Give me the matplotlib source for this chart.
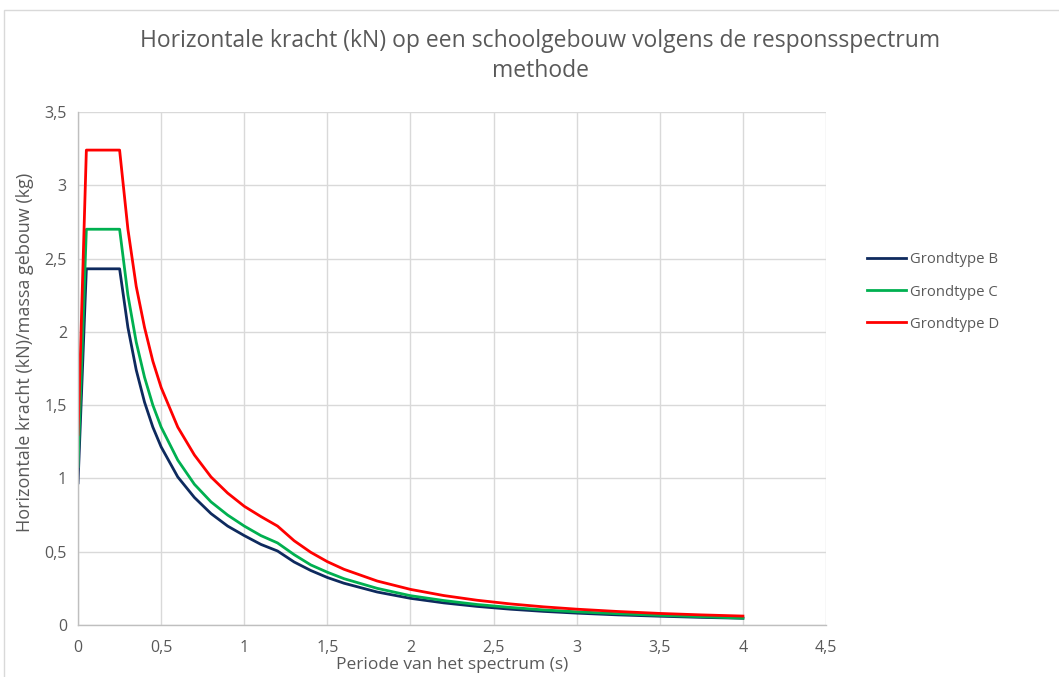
import matplotlib
matplotlib.use("Agg")
import matplotlib.pyplot as plt
from matplotlib.ticker import FuncFormatter, MultipleLocator
from matplotlib.patches import Rectangle


# periode (s) and spectral values
periode = [0.0, 0.05, 0.25, 0.3, 0.35, 0.4, 0.45, 0.5, 0.6, 0.7, 0.8, 0.9,
           1.0, 1.1, 1.2, 1.3, 1.4, 1.5, 1.6, 1.8, 2.0, 2.2, 2.4, 2.6, 2.8,
           3.0, 3.25, 3.5, 3.75, 4.0]

grond_b = [0.97, 2.43, 2.43, 2.03, 1.74, 1.52, 1.35, 1.215, 1.01, 0.87, 0.76,
           0.675, 0.61, 0.55, 0.505, 0.43, 0.372, 0.324, 0.285, 0.225, 0.182,
           0.151, 0.127, 0.108, 0.093, 0.081, 0.069, 0.060, 0.052, 0.046]

grond_c = [1.08, 2.70, 2.70, 2.25, 1.93, 1.69, 1.50, 1.35, 1.125, 0.96, 0.84,
           0.75, 0.675, 0.61, 0.56, 0.48, 0.41, 0.36, 0.316, 0.25, 0.20,
           0.167, 0.14, 0.12, 0.103, 0.09, 0.077, 0.066, 0.057, 0.047]

grond_d = [1.30, 3.24, 3.24, 2.70, 2.31, 2.03, 1.80, 1.62, 1.35, 1.16, 1.01,
           0.90, 0.81, 0.74, 0.675, 0.575, 0.496, 0.432, 0.380, 0.300, 0.243,
           0.201, 0.169, 0.144, 0.124, 0.108, 0.092, 0.079, 0.069, 0.061]

series = [("Grondtype B", grond_b, "#0e2a5e"),
          ("Grondtype C", grond_c, "#00b050"),
          ("Grondtype D", grond_d, "#ff0000")]

TEXT = "#595959"
GRID = "#d9d9d9"

plt.rcParams["font.family"] = ["Open Sans", "DejaVu Sans"]

fig = plt.figure(figsize=(10.59, 6.77), dpi=100)
ax = fig.add_axes([0.0737, 0.0768, 0.7063, 0.7578])

for name, vals, col in series:
    ax.plot(periode, vals, color=col, linewidth=2.0, label=name)

ax.set_xlim(0, 4.5)
ax.set_ylim(0, 3.5)
ax.xaxis.set_major_locator(MultipleLocator(0.5))
ax.yaxis.set_major_locator(MultipleLocator(0.5))
fmt = FuncFormatter(lambda v, p: ("%g" % v).replace(".", ","))
ax.xaxis.set_major_formatter(fmt)
ax.yaxis.set_major_formatter(fmt)
ax.tick_params(length=0, labelsize=11.5, colors=TEXT)
ax.tick_params(axis="x", pad=11)
ax.tick_params(axis="y", pad=8)

ax.grid(True, color=GRID, linewidth=1.0)
ax.set_axisbelow(True)
for s in ["top", "right"]:
    ax.spines[s].set_visible(False)
for s in ["left", "bottom"]:
    ax.spines[s].set_color("#bfbfbf")
    ax.spines[s].set_linewidth(1.0)

ax.set_xlabel("Periode van het spectrum (s)", fontsize=12.5, color=TEXT)
ax.xaxis.set_label_coords(0.5, -0.062)
ax.set_ylabel("Horizontale kracht (kN)/massa gebouw (kg)", fontsize=13,
              color=TEXT)
ax.yaxis.set_label_coords(-0.0595, 0.532)

fig.text(0.51, 0.917, "Horizontale kracht (kN) op een schoolgebouw volgens de responsspectrum\nmethode",
         ha="center", va="center", fontsize=16.5, color=TEXT, linespacing=1.35)

leg = ax.legend(loc="center left", bbox_to_anchor=(1.037, 0.649), frameon=False,
                fontsize=10.7, handlelength=2.6, handletextpad=0.3,
                labelspacing=1.15, labelcolor=TEXT)

# chart-area border
fig.patches.append(Rectangle((0.004, -0.01), 1.0, 0.995, transform=fig.transFigure,
                             fill=False, edgecolor="#d9d9d9", linewidth=1.0))

fig.savefig("out.png", dpi=100, facecolor="white")
